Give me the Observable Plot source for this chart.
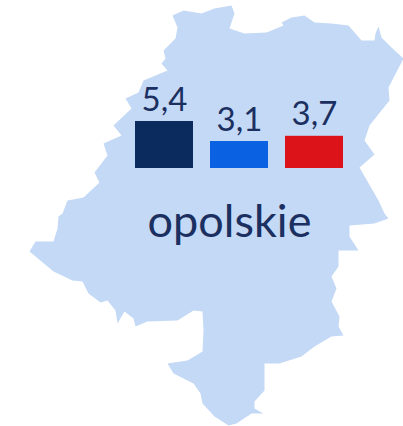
<!DOCTYPE html>
<html>
<head>
<meta charset="utf-8">
<script src="https://cdn.jsdelivr.net/npm/d3@7"></script>
<script src="https://cdn.jsdelivr.net/npm/@observablehq/plot@0.6"></script>
<style>
html,body{margin:0;padding:0;background:#fff;}
#chart{position:relative;width:403px;height:426px;overflow:hidden;}
#chart svg{position:absolute;left:0;top:0;background:transparent;}
</style>
</head>
<body>
<div id="chart"></div>
<script>
const regionName = "opolskie";
const categories = ["a", "b", "c"];
const values = [5.4, 3.1, 3.7];
const labels = ["5,4", "3,1", "3,7"];
const barColors = ["#0b2b5e", "#0a62e3", "#dc1419"];
// Region outline, in map units
const outlineX = [183,172,177,175,163,165,161,167,143,138,125,131,113,121,103,107,94,99,83,67,62,58,57,53,35,29,53,72,82,88,100,107,115,117,124,133,135,147,177,193,202,203,202,187,167,173,193,200,202,214,228,236,251,263,254,254,264,264,279,301,314,331,343,338,339,331,336,331,338,338,358,349,349,374,388,384,378,359,374,364,369,389,388,403,391,381,378,375,374,361,348,331,314,304,291,281,283,266,244,229,234,231,214,201];
const outlineY = [10,15,27,38,50,58,63,70,80,92,98,108,125,135,143,155,172,182,197,200,213,216,228,241,241,251,271,280,281,293,302,300,310,323,311,318,326,321,320,310,311,330,351,360,363,373,383,393,403,416,425,423,413,413,408,401,390,363,363,356,346,336,335,326,316,301,288,276,266,250,250,236,225,223,218,213,200,167,154,140,125,100,87,58,47,37,26,33,40,40,25,23,22,15,17,22,25,32,33,28,13,5,8,13];
const outline = outlineX.map((x, i) => ({x, y: outlineY[i]}));
const bars = categories.map((key, i) => ({key, value: values[i], label: labels[i]}));

const font = "Lato, 'Open Sans', sans-serif";
const ink = "#1b2f60";

const mapPlot = Plot.plot({
  width: 403, height: 426, margin: 0,
  x: {domain: [0, 403], range: [0, 403], axis: null},
  y: {domain: [0, 426], range: [0, 426], axis: null},
  style: {background: "transparent", fontFamily: font},
  marks: [
    Plot.line(outline, {x: "x", y: "y", fill: "#c4d9f6", stroke: "none"}),
    Plot.text([regionName], {
      frameAnchor: "top-left", dx: 229, dy: 236,
      lineAnchor: "bottom", textAnchor: "middle",
      fontSize: 45, fill: ink, fontFamily: font
    })
  ]
});

const barPlot = Plot.plot({
  width: 403, height: 426, margin: 0,
  x: {domain: categories, range: [135, 343], paddingInner: 0.227, paddingOuter: 0, axis: null},
  y: {domain: [0, 5.4], range: [168, 121], axis: null},
  style: {background: "transparent", fontFamily: font},
  marks: [
    Plot.barY(bars, {x: "key", y: "value", fill: d => barColors[categories.indexOf(d.key)]}),
    Plot.text(bars, {
      x: "key", y: "value", text: "label", dy: -11,
      lineAnchor: "bottom", fontSize: 33, fill: ink, fontFamily: font
    })
  ]
});

document.getElementById("chart").append(mapPlot, barPlot);
</script>
</body>
</html>
